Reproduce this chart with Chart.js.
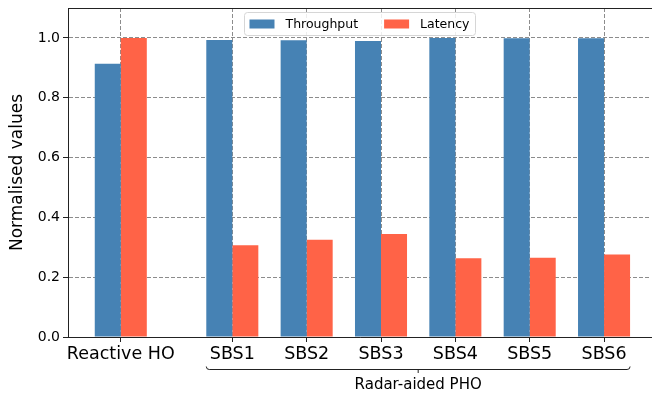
<!DOCTYPE html>
<html>
<head>
<meta charset="utf-8">
<script src="https://cdn.jsdelivr.net/npm/chart.js@4.4.1/dist/chart.umd.min.js"></script>
<style>
    html, body { margin: 0; padding: 0; background: #ffffff; overflow: hidden; }
    canvas { display: block; }
</style>
</head>
<body>
<canvas id="grafica" width="652" height="397"></canvas>
<script>
// Datos
const categorias = ['Reactive HO', 'SBS1', 'SBS2', 'SBS3', 'SBS4', 'SBS5', 'SBS6'];
const posiciones = [0, 1.5, 2.5, 3.5, 4.5, 5.5, 6.5];
const throughput = [0.914, 0.993, 0.992, 0.990, 1.0, 0.999, 0.999];
const latencia = [1.0, 0.307, 0.325, 0.344, 0.263, 0.265, 0.276];
const nombresSeries = ['Throughput', 'Latency'];
const ticksY = [0, 0.2, 0.4, 0.6, 0.8, 1.0];
const grupoTexto = 'Radar-aided PHO';
const grupoDesde = 1;
const grupoHasta = 6;

const azul = '#4682b4';
const rojo = '#ff6347';
const fuente = '"DejaVu Sans", sans-serif';
const colorRejilla = 'rgba(120, 120, 120, 0.85)';

// Marco superior, llave del grupo y leyenda dentro del area
const extras = {
    id: 'extras',
    afterDraw(chart) {
        const ctx = chart.ctx;
        const area = chart.chartArea;
        const x = chart.scales.x;

        ctx.save();
        // la figura original no tiene borde derecho
        ctx.fillStyle = '#ffffff';
        ctx.fillRect(area.right - 2, area.top, 2, area.bottom - area.top - 1);

        ctx.strokeStyle = '#222';
        ctx.lineWidth = 1;
        ctx.beginPath();
        ctx.moveTo(area.left, area.top + 0.5);
        ctx.lineTo(area.right, area.top + 0.5);
        ctx.stroke();

        // llave bajo SBS1..SBS6
        const medio = 0.35;
        const x1 = x.getPixelForValue(posiciones[grupoDesde] - medio);
        const x2 = x.getPixelForValue(posiciones[grupoHasta] + medio);
        const yb = area.bottom + 32.5;
        const xc = (x1 + x2) / 2;
        ctx.beginPath();
        ctx.moveTo(x1, yb - 3);
        ctx.quadraticCurveTo(x1, yb, x1 + 3, yb);
        ctx.lineTo(x2 - 3, yb);
        ctx.quadraticCurveTo(x2, yb, x2, yb - 3);
        ctx.moveTo(xc, yb);
        ctx.lineTo(xc, yb + 3.5);
        ctx.stroke();

        ctx.fillStyle = '#000';
        ctx.font = '15px ' + fuente;
        ctx.textAlign = 'center';
        ctx.textBaseline = 'middle';
        ctx.fillText(grupoTexto, xc, yb + 16);

        // leyenda
        ctx.font = '12.5px ' + fuente;
        const anchos = nombresSeries.map(n => ctx.measureText(n).width);
        const total = 5 + 25 + 11 + anchos[0] + 26 + 25 + 11 + anchos[1] + 6;
        const lx = (area.left + area.right) / 2 - total / 2;
        const ly = area.top + 4.5;
        const lh = 23;
        ctx.beginPath();
        ctx.roundRect(lx, ly, total, lh, 3);
        ctx.fillStyle = 'rgba(255, 255, 255, 0.85)';
        ctx.fill();
        ctx.strokeStyle = '#d6d6d6';
        ctx.stroke();

        let px = lx + 5;
        const colores = [azul, rojo];
        ctx.textAlign = 'left';
        nombresSeries.forEach((n, i) => {
            ctx.fillStyle = colores[i];
            ctx.fillRect(px, ly + 7, 25, 9);
            ctx.fillStyle = '#000';
            ctx.fillText(n, px + 36, ly + lh / 2 + 0.5);
            px += 36 + anchos[i] + 26;
        });
        ctx.restore();
    },
};

const canvas = document.getElementById('grafica');

new Chart(canvas, {
    type: 'bar',
    data: {
        datasets: [
            {
                label: nombresSeries[0],
                data: posiciones.map((p, i) => ({ x: p, y: throughput[i] })),
                backgroundColor: azul,
                borderWidth: 0,
            },
            {
                label: nombresSeries[1],
                data: posiciones.map((p, i) => ({ x: p, y: latencia[i] })),
                backgroundColor: rojo,
                borderWidth: 0,
            },
        ],
    },
    options: {
        responsive: false,
        animation: false,
        devicePixelRatio: 1,
        categoryPercentage: 0.7,
        barPercentage: 1.0,
        layout: {
            padding: { top: 8, right: 0, left: 0, bottom: 0 },
        },
        plugins: {
            legend: { display: false },
            tooltip: { enabled: false },
        },
        scales: {
            x: {
                type: 'linear',
                min: -0.71,
                max: 7.145,
                offset: false,
                afterBuildTicks: function (scale) {
                    scale.ticks = posiciones.map(p => ({ value: p }));
                },
                afterFit: function (scale) {
                    scale.height = 60;
                },
                grid: {
                    offset: false,
                    color: colorRejilla,
                    tickColor: '#222',
                    tickLength: 5,
                },
                border: {
                    color: '#222',
                    width: 1,
                    dash: [4, 2],
                },
                ticks: {
                    color: '#000',
                    padding: 2,
                    autoSkip: false,
                    maxRotation: 0,
                    font: { family: fuente, size: 17.5 },
                    callback: function (value, index) {
                        return categorias[index];
                    },
                },
            },
            y: {
                min: 0,
                max: 1.1,
                afterBuildTicks: function (scale) {
                    scale.ticks = ticksY.map(v => ({ value: v }));
                },
                afterFit: function (scale) {
                    scale.width = 68;
                    scale.paddingTop = 0;
                    scale.paddingBottom = 0;
                },
                grid: {
                    color: colorRejilla,
                    tickColor: '#222',
                    tickLength: 5,
                },
                border: {
                    color: '#222',
                    width: 1,
                    dash: [4, 2],
                },
                ticks: {
                    color: '#000',
                    padding: 3,
                    font: { family: fuente, size: 14 },
                    callback: function (value) {
                        return value.toFixed(1);
                    },
                },
                title: {
                    display: true,
                    text: 'Normalised values',
                    color: '#000',
                    padding: { top: 7 },
                    font: { family: fuente, size: 17 },
                },
            },
        },
    },
    plugins: [extras],
});
</script>
</body>
</html>
